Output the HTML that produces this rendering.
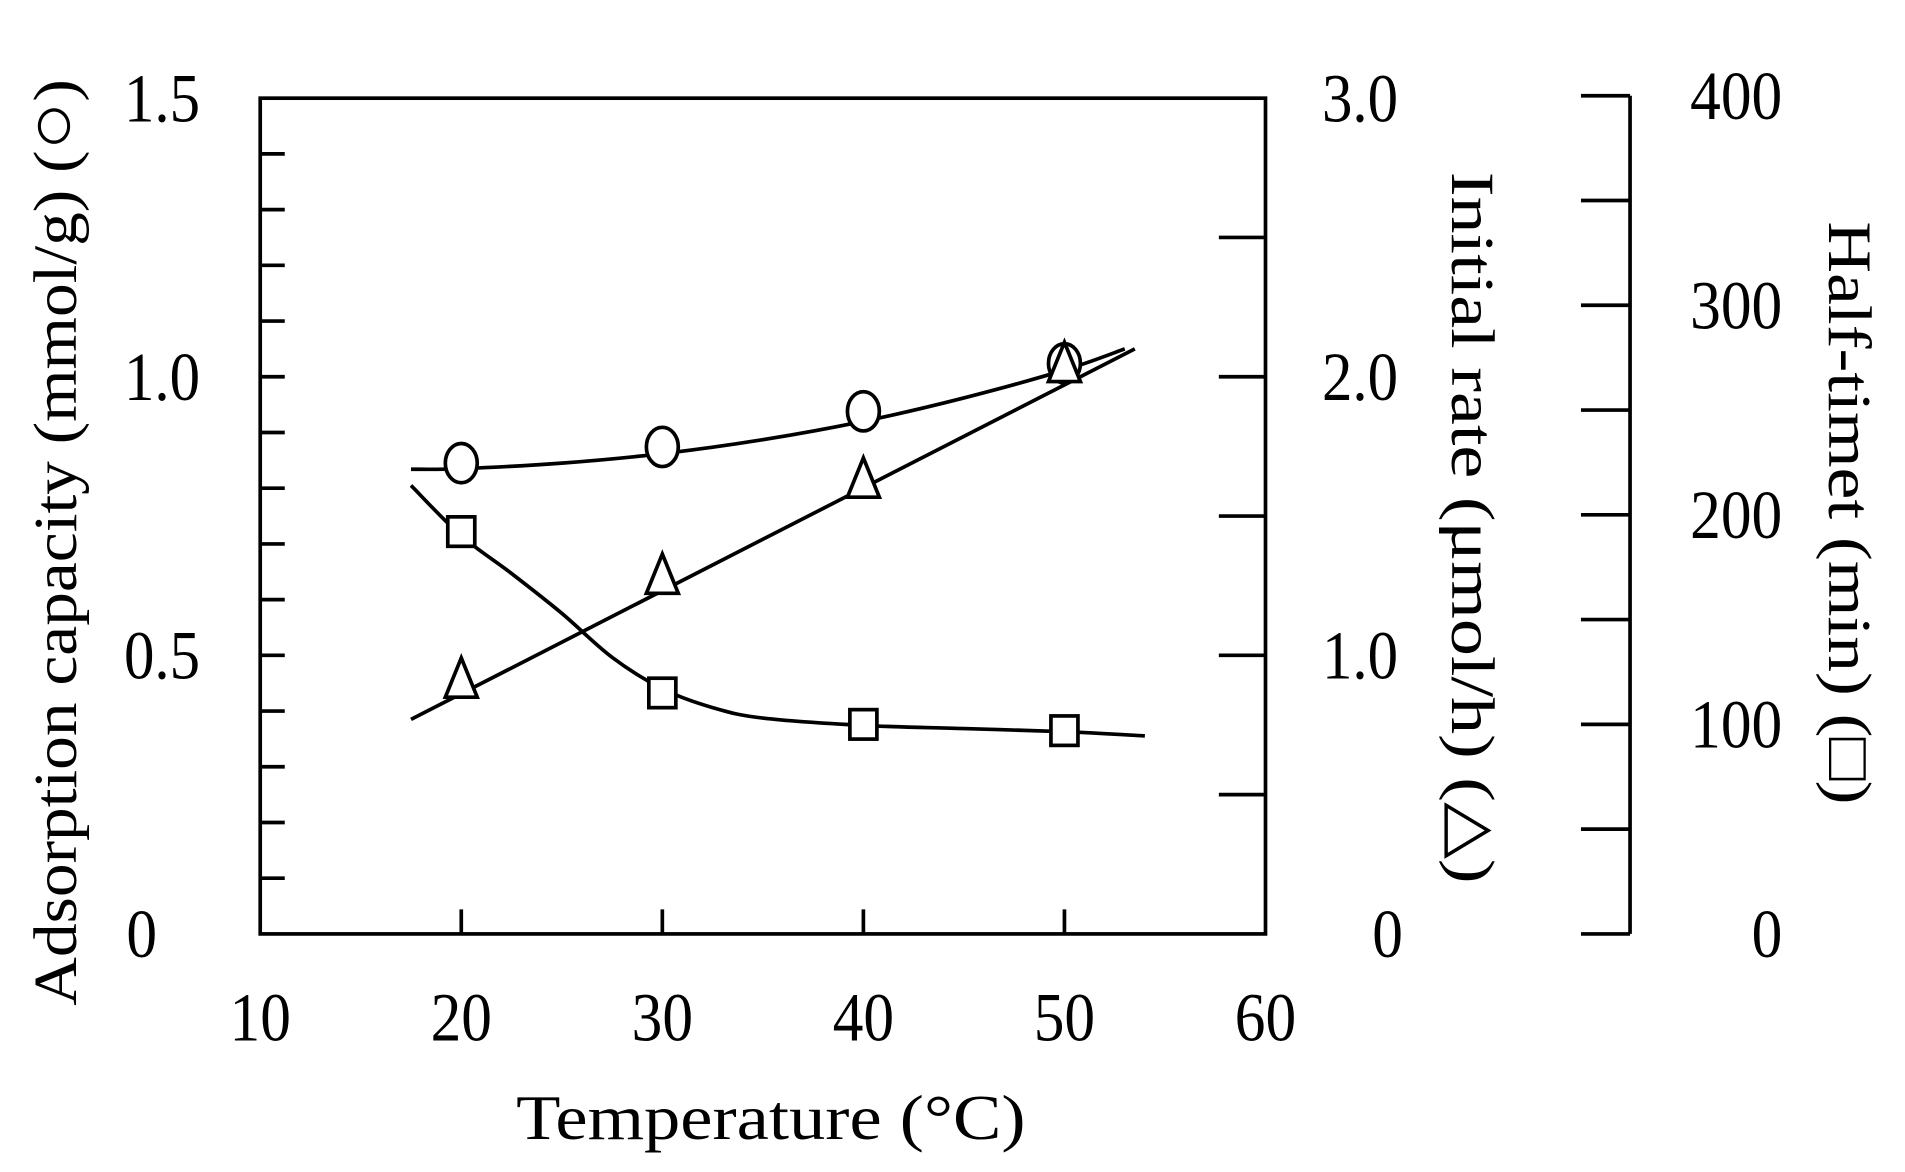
<!DOCTYPE html>
<html><head><meta charset="utf-8"><style>
html,body{margin:0;padding:0;background:#fff;}
svg{display:block;}
text{font-family:"Liberation Serif",serif;fill:#000;}
</style></head><body>
<svg id="chart" width="1905" height="1172" viewBox="0 0 1552 955" preserveAspectRatio="none" xmlns="http://www.w3.org/2000/svg">
<g id="axes"></g>
<g id="lines"></g>
<g id="marks"></g>
<text transform="translate(62,442) rotate(-90)" text-anchor="middle" font-size="50" textLength="755" lengthAdjust="spacingAndGlyphs">Adsorption capacity (mmol/g) (<tspan font-size="60">○</tspan>)</text>
<text transform="translate(1183,430) rotate(90)" text-anchor="middle" font-size="50" textLength="580" lengthAdjust="spacingAndGlyphs">Initial rate (μmol/h) (△)</text>
<text transform="translate(1490,418) rotate(90)" text-anchor="middle" font-size="50" textLength="475" lengthAdjust="spacingAndGlyphs">Half-timet (min) (□)</text>
<text x="628" y="928" text-anchor="middle" font-size="52" textLength="415" lengthAdjust="spacingAndGlyphs">Temperature  (°C)</text>
</svg>
<script>
const xTicks=[10,20,30,40,50,60];
const leftTicks=[0,0.5,1.0,1.5];
const leftTickLabels=["0","0.5","1.0","1.5"];
const rightTicks=[0,1.0,2.0,3.0];
const rightTickLabels=["0","1.0","2.0","3.0"];
const thirdTicks=[0,100,200,300,400];
const temps=[20,30,40,50];
const capacity=[0.845,0.874,0.938,1.024];
const rate=[0.907,1.28,1.625,2.04];
const halfTime=[192,115,100,97];
const capFitX=[17.5,20,25,30,35,40,45,50,53];
const capFitY=[0.834,0.835,0.845,0.862,0.887,0.92,0.962,1.012,1.05];
const rateFitX=[17.5,53.5];
const rateFitY=[0.77,2.1];
const htFitX=[17.5,20,22.5,25,27.5,30,32.5,35,40,45,50,54];
const htFitY=[214,190,172,153,132,117,108,103,99.5,98,96.5,94.5];

const NS="http://www.w3.org/2000/svg";
const X=v=>212+(v-10)*(1031-212)/50;
const YL=v=>761-v*(761-80)/1.5;
const YR=v=>761-v*(761-80)/3.0;
const YT=v=>761-v*(761-78)/400;
function mk(tag,attrs,parent){const e=document.createElementNS(NS,tag);for(const k in attrs)e.setAttribute(k,attrs[k]);parent.appendChild(e);return e;}
function tl(s){let w=0;for(const c of String(s))w+=(c==='.')?12:25;return w;}
const axes=document.getElementById('axes'),lines=document.getElementById('lines'),marks=document.getElementById('marks');
const S={stroke:"#000","stroke-width":3,fill:"none"};
const F={"font-size":56,lengthAdjust:"spacingAndGlyphs"};

let r=mk('rect',Object.assign({x:212,y:80,width:819,height:681},S),axes);


xTicks.forEach(t=>{
  if(t>10&&t<60){let l=mk('line',Object.assign({x1:X(t),x2:X(t),y1:761,y2:741},S),axes);
  
  }
  let tx=mk('text',Object.assign({x:X(t),y:848,"text-anchor":"middle",textLength:tl(t)},F),axes);tx.textContent=t;
  
  
});
for(let i=1;i<15;i++){let v=i/10;let l=mk('line',Object.assign({x1:212,x2:232,y1:YL(v),y2:YL(v)},S),axes);
  
  }
leftTicks.forEach((t,i)=>{let tx=mk('text',Object.assign({x:163,y:YL(t)+19,"text-anchor":"end",textLength:tl(leftTickLabels[i])},F),axes);tx.textContent=leftTickLabels[i];
  if(t===0)tx.setAttribute('x',128);
  
  });
for(let i=1;i<6;i++){let v=i*0.5;let l=mk('line',Object.assign({x1:993,x2:1031,y1:YR(v),y2:YR(v)},S),axes);
  
  }
rightTicks.forEach((t,i)=>{let tx=mk('text',Object.assign({x:1077,y:YR(t)+19,"text-anchor":"start",textLength:tl(rightTickLabels[i])},F),axes);tx.textContent=rightTickLabels[i];
  if(t===0)tx.setAttribute('x',1118);
  
  });
let ta=mk('line',Object.assign({x1:1328,x2:1328,y1:YT(400),y2:YT(0)},S),axes);


for(let i=0;i<=8;i++){let v=i*50;let l=mk('line',Object.assign({x1:1288,x2:1328,y1:YT(v),y2:YT(v)},S),axes);
  
  }
thirdTicks.forEach(t=>{let tx=mk('text',Object.assign({x:1452,y:YT(t)+19,"text-anchor":"end",textLength:tl(t)},F),axes);tx.textContent=t;
  
  });

function curve(xs,ys,fy,name){
  let d="M"+X(xs[0])+","+fy(ys[0]);
  for(let i=0;i<xs.length-1;i++){
    const p0=[X(xs[Math.max(0,i-1)]),fy(ys[Math.max(0,i-1)])],p1=[X(xs[i]),fy(ys[i])],p2=[X(xs[i+1]),fy(ys[i+1])],p3=[X(xs[Math.min(xs.length-1,i+2)]),fy(ys[Math.min(xs.length-1,i+2)])];
    const c1=[p1[0]+(p2[0]-p0[0])/6,p1[1]+(p2[1]-p0[1])/6],c2=[p2[0]-(p3[0]-p1[0])/6,p2[1]-(p3[1]-p1[1])/6];
    d+=" C"+c1+" "+c2+" "+p2;
  }
  let p=mk('path',Object.assign({d:d},S),lines);
  
  
}
curve(capFitX,capFitY,YL,'capacity-fit-line');
curve(rateFitX,rateFitY,YR,'rate-fit-line');
curve(htFitX,htFitY,YT,'halftime-fit-line');

const M={stroke:"#000","stroke-width":3,fill:"#fff"};
temps.forEach((t,i)=>{
  let c=mk('ellipse',Object.assign({cx:X(t),cy:YL(capacity[i]),rx:13,ry:16},M),marks);
  
  
  let x=X(t),y=YR(rate[i]);
  let tr=mk('polygon',Object.assign({points:`${x},${y-19} ${x-13},${y+13} ${x+13},${y+13}`},M),marks);
  
  
  let sy=YT(halfTime[i]);
  let sq=mk('rect',Object.assign({x:X(t)-11,y:sy-12,width:22,height:24},M),marks);
  
  
});
</script>
</body></html>
